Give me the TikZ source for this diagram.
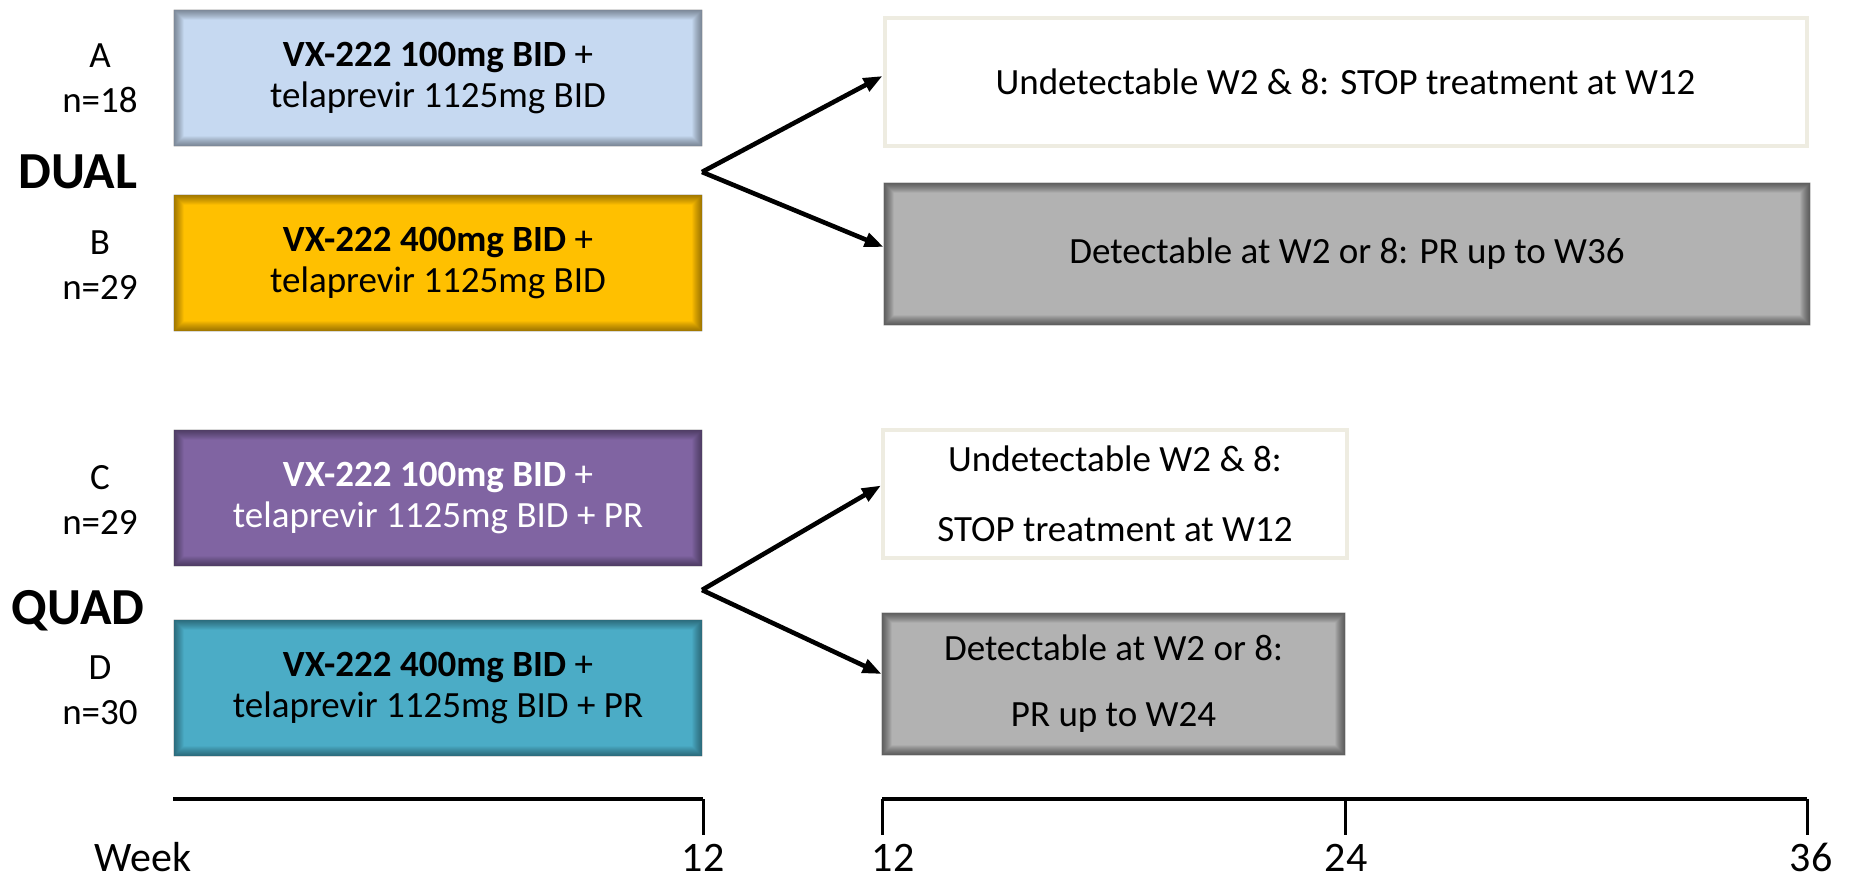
\documentclass[tikz,border=0pt]{standalone}
\usepackage{fontspec}
\setmainfont{Carlito}
\usetikzlibrary{arrows.meta}
\definecolor{armA}{RGB}{198,217,241}
\definecolor{armB}{RGB}{255,192,0}
\definecolor{armC}{RGB}{128,100,162}
\definecolor{armD}{RGB}{75,172,198}
\definecolor{greybox}{RGB}{178,178,178}
\definecolor{beige}{RGB}{238,236,225}
\newcommand{\innershade}[2]{%
  \foreach \k in {1,...,10}{%
    \fill[black,opacity=#2,even odd rule]
      (#1.north west) rectangle (#1.south east)
      ([shift={(\k,\k)}]#1.north west) rectangle ([shift={(-\k,-\k)}]#1.south east);}}
\begin{document}
\begin{tikzpicture}[x=0.5pt,y=-0.5pt,
  txt/.style={font=\fontsize{18.5}{20.5}\selectfont, align=center},
  arm/.style={txt, draw=none, minimum width=264pt, minimum height=68pt, inner sep=0pt},
  outcome/.style={txt, inner sep=0pt},
  lab/.style={font=\fontsize{18.5}{22.5}\selectfont, align=center},
  big/.style={font=\fontsize{26}{30}\selectfont\bfseries},
  arr/.style={line width=2.3pt, -{Triangle[length=9.5pt,width=7pt]}},
  axis/.style={line width=1.8pt},
  tick/.style={line width=1.5pt},
  axlab/.style={font=\fontsize{21}{24}\selectfont, anchor=base, inner sep=0pt}]
\useasboundingbox (0,0) rectangle (1849,878);

% arms
\node[arm, fill=armA] (A) at (438,78) {\textbf{VX-222 100mg BID} +\\telaprevir 1125mg BID};
\node[arm, fill=armB] (B) at (438,263) {\textbf{VX-222 400mg BID} +\\telaprevir 1125mg BID};
\node[arm, fill=armC, text=white] (C) at (438,498) {\textbf{VX-222 100mg BID} +\\telaprevir 1125mg BID + PR};
\node[arm, fill=armD] (D) at (438,688) {\textbf{VX-222 400mg BID} +\\telaprevir 1125mg BID + PR};
\innershade{A}{0.045}\innershade{B}{0.045}\innershade{C}{0.045}\innershade{D}{0.045}

% outcomes
\node[outcome, fill=white, draw=beige, line width=2pt, minimum width=461pt, minimum height=64pt] (R1) at (1345.5,82) {Undetectable W2 \& 8: STOP treatment at W12};
\node[outcome, fill=greybox, minimum width=463pt, minimum height=71pt] (R2) at (1347,254) {Detectable at W2 or 8: PR up to W36};
\node[outcome, fill=white, draw=beige, line width=2pt, minimum width=232pt, minimum height=64pt, font=\fontsize{18.5}{35}\selectfont] (R3) at (1115,493.5) {Undetectable W2 \& 8:\\STOP treatment at W12};
\node[outcome, fill=greybox, minimum width=231.5pt, minimum height=71pt, font=\fontsize{18.5}{33}\selectfont] (R4) at (1113.5,684) {Detectable at W2 or 8:\\PR up to W24};
\innershade{R2}{0.06}\innershade{R4}{0.06}

% labels
\node[lab] (lA) at (100,78) {A\\n=18};
\node[lab] (lB) at (100,265) {B\\n=29};
\node[lab] (lC) at (100,500) {C\\n=29};
\node[lab] (lD) at (100,690) {D\\n=30};
\node[big] (dual) at (78,172) {DUAL};
\node[big] (quad) at (78,611) {QUAD};

% arrows
\coordinate (s1) at (702,172);
\coordinate (s2) at (702,590);
\draw[arr] (s1) -- ([yshift=3pt]R1.west);
\draw[arr] (s1) -- ([yshift=3.5pt]R2.west);
\draw[arr] (s2) -- ([yshift=4pt]R3.west);
\draw[arr] (s2) -- ([yshift=5pt]R4.west);

% axes
\coordinate (a0) at (173,799);
\coordinate (a12) at (703,799);
\coordinate (b12) at (882,799);
\coordinate (b24) at (1345,799);
\coordinate (b36) at (1807,799);
\draw[axis] (a0) -- (a12);
\draw[tick] (a12) -- ++(0,36);
\draw[axis] (b12) -- (b36);
\draw[tick] (b12) -- ++(0,36);
\draw[tick] (b24) -- ++(0,36);
\draw[tick] (b36) -- ++(0,36);
\node[axlab] (wk) at (143,871) {Week};
\node[axlab] (t1) at (703,871) {12};
\node[axlab] (t2) at (893,871) {12};
\node[axlab] (t3) at (1346,871) {24};
\node[axlab] (t4) at (1811,871) {36};
\end{tikzpicture}
\end{document}
